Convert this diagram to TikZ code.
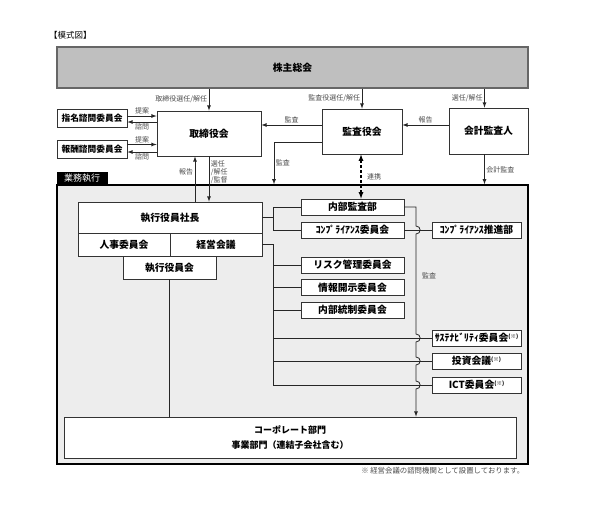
\documentclass[tikz,border=0pt]{standalone}
\usepackage{fontspec}
\usepackage{tikz}
\usetikzlibrary{calc}
\usetikzlibrary{positioning}
\newfontfamily\jp{Noto Sans CJK JP}
\newcommand{\chuki}{\raisebox{3pt}{\fontsize{5.5}{6}\selectfont(※)}}

\tikzset{
	box/.style={draw=black!80,fill=white,line width=0.8pt,inner sep=0pt,align=center,
		font=\jp\bfseries\fontsize{9.8}{14}\selectfont},
	smallbox/.style={box,font=\jp\bfseries\fontsize{8.7}{10}\selectfont},
	lbl/.style={font=\jp\fontsize{7}{8}\selectfont,text=black!70,inner sep=1.5pt},
	con/.style={line width=0.8pt,draw=black!85},
}

\begin{document}
\begin{tikzpicture}[x=1pt,y=-1pt]
	\useasboundingbox (0,0) rectangle (592,507);
	\node[anchor=west,font=\jp\fontsize{8.5}{10}\selectfont,inner sep=0] (title) at (49,35) {【模式図】};
	\node[box,fill=black!25,draw=black!60,line width=1.2pt,minimum width=471pt,minimum height=41pt] (soukai) at (292.5,67.5) {株主総会};
	\node[box,minimum width=104pt,minimum height=45pt] (tori) at (209,133.5) {取締役会};
	\node[box,minimum width=80pt,minimum height=45pt] (kansa) at (362,131.5) {監査役会};
	\node[box,minimum width=79pt,minimum height=46pt] (kaikei) at (488.5,131) {会計監査人};
	\node[smallbox,minimum width=70pt,minimum height=18pt] (shimei) at (92,118) {指名諮問委員会};
	\node[smallbox,minimum width=70pt,minimum height=18pt] (houshu) at (92,149) {報酬諮問委員会};
	% 業務執行
	\node[draw=black,line width=1.4pt,fill=black!7,minimum width=471pt,minimum height=279pt,inner sep=0] (gyomu) at (292.5,324.5) {};
	\node[fill=black,text=white,font=\jp\fontsize{9}{10}\selectfont,minimum width=51pt,minimum height=12pt,inner sep=0,anchor=south west] (tab) at (gyomu.north west) {業務執行};
	\node[box,minimum width=184pt,minimum height=31pt] (shacho) at (170,217.5) {執行役員社長};
	\node[box,minimum width=92pt,minimum height=23pt] (jinji) at (124,244.5) {人事委員会};
	\node[box,minimum width=92pt,minimum height=23pt] (keiei) at (216,244.5) {経営会議};
	\node[box,minimum width=93pt,minimum height=23pt] (yakuin) at (169.5,267.5) {執行役員会};
	\node[box,minimum width=103pt,minimum height=16pt] (naibu) at (352.5,207) {内部監査部};
	\node[box,minimum width=103pt,minimum height=16pt] (comp) at (352.5,230) {ｺﾝﾌﾟﾗｲｱﾝｽ委員会};
	\node[box,minimum width=103pt,minimum height=16pt] (risk) at (352.5,265) {リスク管理委員会};
	\node[box,minimum width=103pt,minimum height=16pt] (info) at (352.5,287.5) {情報開示委員会};
	\node[box,minimum width=103pt,minimum height=16pt] (naiseki) at (352.5,310) {内部統制委員会};
	\node[box,minimum width=89pt,minimum height=16pt] (suishin) at (476.5,230) {ｺﾝﾌﾟﾗｲｱﾝｽ推進部};
	\node[box,minimum width=89pt,minimum height=16pt] (sus) at (476.5,338) {ｻｽﾃﾅﾋﾞﾘﾃｨ委員会\chuki};
	\node[box,minimum width=89pt,minimum height=16pt] (toushi) at (476.5,361) {投資会議\chuki};
	\node[box,minimum width=89pt,minimum height=16pt] (ict) at (476.5,385) {ICT委員会\chuki};
	\node[box,minimum width=452pt,minimum height=41pt,font=\jp\bfseries\fontsize{9}{15}\selectfont] (corp) at (290,437.5) {コーポレート部門\\事業部門（連結子会社含む）};
	\node[lbl,anchor=east,font=\jp\fontsize{7.4}{8}\selectfont] (chu) at (526,471) {※ 経営会議の諮問機関として設置しております。};
	\coordinate (bx) at (273,0);
	\coordinate (kx) at (416,0);
	\coordinate (ax) at (274,0);
	% 株主総会から
	\draw[con,-latex] (soukai.south -| tori.north) -- (tori.north) node[midway,left,lbl] {取締役選任/解任};
	\draw[con,-latex] (soukai.south -| kansa.north) -- (kansa.north) node[midway,left,lbl] {監査役選任/解任};
	\draw[con,-latex] ([xshift=-4pt]kaikei.north |- soukai.south) -- ([xshift=-4pt]kaikei.north) node[midway,left,lbl] {選任/解任};
	\draw[con,-latex] ([yshift=6pt]kaikei.west) -- ([yshift=6pt]kaikei.west -| kansa.east) node[midway,above,lbl] {報告};
	\draw[con,-latex] ([yshift=6.5pt]kansa.west) -- ([yshift=6.5pt]kansa.west -| tori.east) node[midway,above,lbl] {監査};
	\draw[con,-latex] ([yshift=-10.5pt]kansa.west) -| (ax |- gyomu.north) node[pos=0.75,right,lbl] {監査};
	\draw[con,-latex] ([xshift=-4pt]kaikei.south) -- ([xshift=-4pt]kaikei.south |- gyomu.north) node[midway,right,lbl] {会計監査};
	\draw[latex-latex,line width=1.2pt,dash pattern=on 3pt off 2pt] ([xshift=-1pt]kansa.south) -- ([xshift=-1pt]kansa.south |- naibu.north) node[midway,right=4pt,lbl] {連携};
	% 諮問委員会
	\draw[con,-latex] ([yshift=2pt]shimei.east) -- ([yshift=2pt]shimei.east -| tori.west) node[midway,above,lbl] {提案};
	\draw[con,-latex] ([yshift=-4pt]shimei.east -| tori.west) -- ([yshift=-4pt]shimei.east) node[midway,below,lbl] {諮問};
	\draw[con,-latex] ([yshift=4.5pt]houshu.east) -- ([yshift=4.5pt]houshu.east -| tori.west) node[midway,above,lbl] {提案};
	\draw[con,-latex] ([yshift=-3pt]houshu.east -| tori.west) -- ([yshift=-3pt]houshu.east) node[midway,below,lbl] {諮問};
	% 取締役会と執行
	\draw[con,-latex] (tori.south) -- (tori.south |- shacho.north) node[pos=0.35,right,lbl,align=left] {選任\\/解任\\/監督};
	\draw[con,-latex] ([xshift=-14pt]tori.south |- shacho.north) -- ([xshift=-14pt]tori.south) node[pos=0.65,left,lbl] {報告};
	\draw[con] (yakuin.south) -- (yakuin.south |- corp.north);
	\draw[con] (shacho.east) -- (shacho.east -| bx);
	\draw[con] (naibu.west) -- (naibu.west -| bx) -- (comp.west -| bx) -- (comp.west);
	\draw[con] (keiei.east) -| (bx |- ict.west) -- (ict.west);
	\foreach \n in {risk,info,naiseki,sus,toushi}
		\draw[con] (bx |- \n.west) -- (\n.west);
	\draw[con] (comp.east) -- (suishin.west);
	% 監査
	\draw[con,-latex] (naibu.east) -- (naibu.east -| kx)
		\foreach \n in {comp,sus,toushi,ict}{ -- ([yshift=4pt]kx |- \n.east) .. controls +(5.5,0) and +(5.5,0) .. ([yshift=-4pt]kx |- \n.east)}
		-- (kx |- corp.north);
	\node[lbl] (kansa2) at (429,276) {監査};
\end{tikzpicture}
\end{document}
